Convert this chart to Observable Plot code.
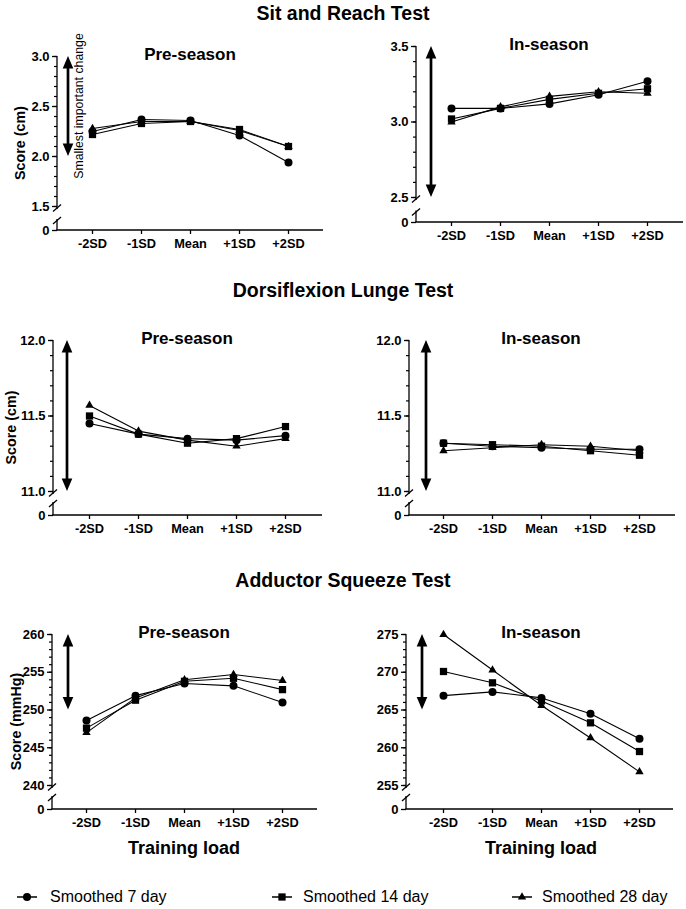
<!DOCTYPE html>
<html><head><meta charset="utf-8">
<script src="https://cdn.jsdelivr.net/npm/d3@7"></script>
<script src="https://cdn.jsdelivr.net/npm/@observablehq/plot@0.6"></script>
<style>
body{margin:0;background:#fff;}
#root{position:relative;width:686px;height:909px;overflow:hidden;background:#fff;font-family:"Liberation Sans",Arial,Helvetica,sans-serif;color:#000;}
.title{position:absolute;left:0;width:686px;text-align:center;font-weight:bold;font-size:19.5px;line-height:1;}
.panel{position:absolute;}
.legend-item{position:absolute;top:886px;height:22px;font-size:16px;}
.legend-item span{position:absolute;top:2px;white-space:nowrap;}
</style></head><body><div id="root"></div>
<script>
// ---------- data ----------
const loads = ["-2SD", "-1SD", "Mean", "+1SD", "+2SD"];
const seriesNames = ["Smoothed 7 day", "Smoothed 14 day", "Smoothed 28 day"];
const testTitles = ["Sit and Reach Test", "Dorsiflexion Lunge Test", "Adductor Squeeze Test"];
const seasons = ["Pre-season", "In-season"];

const sitPre7  = [2.25, 2.37, 2.36, 2.21, 1.94];
const sitPre14 = [2.22, 2.33, 2.35, 2.27, 2.10];
const sitPre28 = [2.28, 2.35, 2.35, 2.26, 2.10];
const sitIn7   = [3.09, 3.09, 3.12, 3.18, 3.27];
const sitIn14  = [3.02, 3.09, 3.15, 3.19, 3.22];
const sitIn28  = [3.00, 3.10, 3.17, 3.20, 3.19];

const dorPre7  = [11.45, 11.38, 11.35, 11.34, 11.37];
const dorPre14 = [11.50, 11.38, 11.32, 11.35, 11.43];
const dorPre28 = [11.57, 11.40, 11.34, 11.30, 11.35];
const dorIn7   = [11.32, 11.30, 11.29, 11.28, 11.28];
const dorIn14  = [11.32, 11.31, 11.30, 11.27, 11.24];
const dorIn28  = [11.27, 11.29, 11.31, 11.30, 11.27];

const addPre7  = [248.6, 251.9, 253.5, 253.2, 251.0];
const addPre14 = [247.6, 251.3, 253.8, 254.2, 252.7];
const addPre28 = [247.0, 251.6, 254.0, 254.7, 253.9];
const addIn7   = [266.9, 267.4, 266.6, 264.5, 261.2];
const addIn14  = [270.1, 268.6, 266.2, 263.3, 259.5];
const addIn28  = [275.0, 270.3, 265.6, 261.3, 256.8];

const sitPreTicks = [1.5, 2.0, 2.5, 3.0];
const sitInTicks  = [2.5, 3.0, 3.5];
const dorTicks    = [11.0, 11.5, 12.0];
const addPreTicks = [240, 245, 250, 255, 260];
const addInTicks  = [255, 260, 265, 270, 275];
const yLabels = ["Score (cm)", "Score (cm)", "Score (mmHg)"];
const xLabel = "Training load";
const sicLabel = "Smallest important change";
const sicCm = 1.0;      // smallest important change, cm
const sicMmHg = 10;     // smallest important change, mmHg

// ---------- layout (styles, pixels) ----------
const panels = [
  {series:[sitPre7,sitPre14,sitPre28], ticks:sitPreTicks, minor:0.1, dec:1, sic:sicCm, season:seasons[0], yLabel:yLabels[0], labelX:20, sicText:true,
   left:0, top:25, w:343, h:240, mL:57, mT:31, lowPx:181, mB:35, mR:20, xr:[90,289], arrowDx:11, brk:9.5},
  {series:[sitIn7,sitIn14,sitIn28], ticks:sitInTicks, minor:0.1, dec:1, sic:sicCm, season:seasons[1],
   left:343, top:25, w:343, h:240, mL:73, mT:21, lowPx:172, mB:43, mR:3, xr:[106,305], arrowDx:15, brk:10},
  {series:[dorPre7,dorPre14,dorPre28], ticks:dorTicks, minor:0.1, dec:1, sic:sicCm, season:seasons[0], yLabel:yLabels[1], labelX:11,
   left:0, top:305, w:343, h:245, mL:53, mT:35, lowPx:186, mB:35, mR:21, xr:[87,286], arrowDx:14, brk:11.5},
  {series:[dorIn7,dorIn14,dorIn28], ticks:dorTicks, minor:0.1, dec:1, sic:sicCm, season:seasons[1],
   left:343, top:305, w:343, h:245, mL:66, mT:35, lowPx:186, mB:35, mR:11, xr:[99,297], arrowDx:17, brk:11.5},
  {series:[addPre7,addPre14,addPre28], ticks:addPreTicks, minor:1, dec:0, sic:sicMmHg, season:seasons[0], yLabel:yLabels[2], labelX:16, xLabel:true,
   left:0, top:597, w:343, h:268, mL:52, mT:37, lowPx:188, mB:56, mR:26, xr:[85,283], arrowDx:16, brk:11.5},
  {series:[addIn7,addIn14,addIn28], ticks:addInTicks, minor:1, dec:0, sic:sicMmHg, season:seasons[1], xLabel:true,
   left:343, top:597, w:343, h:268, mL:63, mT:37, lowPx:188, mB:56, mR:13, xr:[99,297], arrowDx:16, brk:11.5}
];
const titleTops = [3.5, 280.5, 570.5];
const symbols = ["circle", "square", "triangle"];
const radii = [4.0, 4.1, 3.1];
const FONT = "Liberation Sans, Arial, Helvetica, sans-serif";

function deco(p) {
  return (index, scales, values, dims) => {
    const {x, y} = scales;
    const x0 = dims.marginLeft, yb = dims.height - dims.marginBottom, xe = dims.width - dims.marginRight;
    const g = d3.create("svg:g");
    const ln = (x1, y1, x2, y2, w = 1.3) => g.append("line")
      .attr("x1", x1).attr("y1", y1).attr("x2", x2).attr("y2", y2)
      .attr("stroke", "black").attr("stroke-width", w);
    const topV = p.ticks[p.ticks.length - 1];
    const yT = y(topV), yL = y(p.ticks[0]);
    // broken y axis
    ln(x0, yT, x0, yL + 3);
    ln(x0 - 4, yL + 5.5, x0 + 4, yL - 1.5);
    const yBr = yb - p.brk;
    ln(x0, yBr - 1.5, x0, yb);
    ln(x0 - 4, yBr + 3.5, x0 + 4, yBr - 3.5);
    // x axis line
    ln(x0 - 0.6, yb, xe, yb);
    // double arrow (smallest important change)
    const ax = x0 + p.arrowDx;
    const a1 = y(topV), a2 = y(topV - p.sic);
    const hh = 12.5, hw = 5.3;
    ln(ax, a1 + hh - 1, ax, a2 - hh + 1, 2.7);
    g.append("path").attr("d", `M${ax},${a1}L${ax + hw},${a1 + hh}L${ax - hw},${a1 + hh}Z`).attr("fill", "black");
    g.append("path").attr("d", `M${ax},${a2}L${ax + hw},${a2 - hh}L${ax - hw},${a2 - hh}Z`).attr("fill", "black");
    if (p.sicText) {
      g.append("text").attr("transform", `translate(${ax + 11},${(a1 + a2) / 2}) rotate(-90)`)
        .attr("dy", "0.36em").attr("text-anchor", "middle").attr("font-size", 12.3).attr("font-weight", "normal")
        .text(sicLabel);
    }
    // panel title
    g.append("text").attr("x", x("Mean")).attr("y", yT - 2).attr("dy", "0.36em")
      .attr("text-anchor", "middle").attr("font-size", 17).attr("font-weight", "bold").text(p.season);
    if (p.yLabel) {
      g.append("text").attr("transform", `translate(${p.labelX},${(yT + yb) / 2}) rotate(-90)`)
        .attr("dy", "0.36em").attr("text-anchor", "middle").attr("font-size", 14.3).attr("font-weight", "bold")
        .text(p.yLabel);
    }
    if (p.xLabel) {
      g.append("text").attr("x", x("Mean")).attr("y", 251).attr("dy", "0.36em")
        .attr("text-anchor", "middle").attr("font-size", 18).attr("font-weight", "bold").text(xLabel);
    }
    return g.node();
  };
}

function makePanel(p) {
  const data = [];
  p.series.forEach((vals, s) => vals.forEach((v, i) => data.push({load: loads[i], series: seriesNames[s], value: v})));
  const lo = p.ticks[0], hi = p.ticks[p.ticks.length - 1];
  const n = Math.round((hi - lo) / p.minor);
  const minor = d3.range(n + 1).map(i => lo + i * p.minor);
  const yb = p.h - p.mB;
  return Plot.plot({
    width: p.w, height: p.h,
    marginLeft: p.mL, marginTop: p.mT, marginBottom: p.mB, marginRight: p.mR,
    style: {fontFamily: FONT, fontWeight: "bold", background: "white", color: "black", overflow: "visible"},
    x: {type: "point", domain: loads, range: p.xr, padding: 0, label: null},
    y: {type: "linear", domain: [0, lo, hi], range: [yb, p.lowPx, p.mT], label: null},
    marks: [
      deco(p),
      Plot.axisY({ticks: minor, tickSize: 3, tickFormat: () => "", strokeWidth: 1.2, label: null}),
      Plot.axisY({ticks: [0, ...p.ticks], tickSize: 5, tickPadding: 3, strokeWidth: 1.3, label: null,
        tickFormat: d => d === 0 ? "0" : d.toFixed(p.dec), fontSize: 13, fontWeight: "bold"}),
      Plot.axisX({tickSize: 4, tickPadding: 4, strokeWidth: 1.3, label: null, fontSize: 12.8, fontWeight: "bold"}),
      Plot.line(data, {x: "load", y: "value", z: "series", stroke: "black", strokeWidth: 1.1}),
      ...seriesNames.map((s, k) => Plot.dot(data.filter(d => d.series === s),
        {x: "load", y: "value", symbol: symbols[k], r: radii[k], fill: "black", stroke: "none"}))
    ]
  });
}

const root = document.getElementById("root");
testTitles.forEach((t, i) => {
  const d = document.createElement("div");
  d.className = "title"; d.style.top = titleTops[i] + "px"; d.textContent = t;
  root.appendChild(d);
});
panels.forEach(p => {
  const d = document.createElement("div");
  d.className = "panel";
  Object.assign(d.style, {left: p.left + "px", top: p.top + "px", width: p.w + "px", height: p.h + "px"});
  d.appendChild(makePanel(p));
  root.appendChild(d);
});

// legend
const legendMarkX = [27, 282, 522];
const legendTextX = [50, 303, 542];
seriesNames.forEach((s, k) => {
  const item = d3.select(root).append("div").attr("class", "legend-item").style("left", "0px").style("width", "686px");
  const svg = item.append("svg").attr("width", 686).attr("height", 22).style("position", "absolute").style("left", "0px").style("top", "0px");
  const cx = legendMarkX[k], cy = 11;
  svg.append("line").attr("x1", cx - 10).attr("x2", cx + 10).attr("y1", cy).attr("y2", cy).attr("stroke", "black").attr("stroke-width", 1.5);
  svg.append("path").attr("transform", `translate(${cx},${cy})`)
    .attr("d", d3.symbol(k === 0 ? d3.symbolCircle : k === 1 ? d3.symbolSquare : d3.symbolTriangle, Math.PI * radii[k] * radii[k])())
    .attr("fill", "black");
  item.append("span").style("left", legendTextX[k] + "px").text(s);
});
</script>
</body></html>
